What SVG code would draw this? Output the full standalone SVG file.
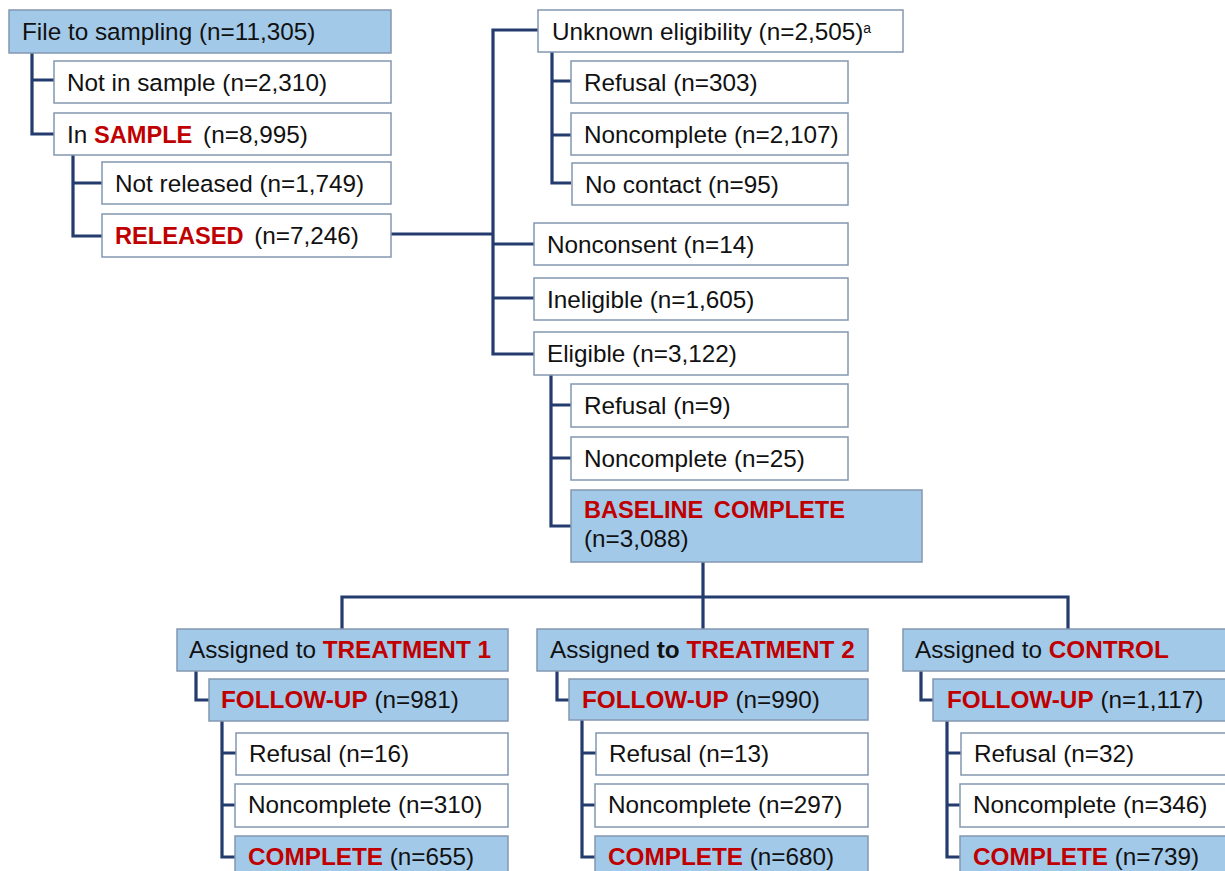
<svg xmlns="http://www.w3.org/2000/svg" width="1225" height="871" viewBox="0 0 1225 871">
<style>
  .w { fill: #FFFFFF; stroke: #8497B0; stroke-width: 1.5; }
  .b { fill: #A3C9E9; stroke: #8497B0; stroke-width: 1.5; }
  text { font-family: "Liberation Sans", Arial, sans-serif; font-size: 24.3px; fill: #111111; white-space: pre; }
  .r { fill: #C00000; font-weight: bold; }
  .s { font-size: 23.6px; }
  .k { font-weight: bold; }
  .sup { font-size: 14px; }
  .c { fill: none; stroke: #243B6E; stroke-width: 3.2; stroke-linejoin: miter; }
</style>
<rect width="1225" height="871" fill="#FFFFFF"/>
<g id="connectors" class="c">
  <path class="c" d="M32,53 V134 H54 M32,80 H54"/>
  <path class="c" d="M73,155 V236 H102 M73,183 H102"/>
  <path class="c" d="M391,234 H493"/>
  <path class="c" d="M538,30 H493 V354 H534 M493,244 H534 M493,298 H534"/>
  <path class="c" d="M552,52 V183 H571 M552,81 H571 M552,135 H571"/>
  <path class="c" d="M551,375 V526 H571 M551,405 H571 M551,458 H571"/>
  <path class="c" d="M703,562 V629 M342,629 V597 H1068 V629"/>
  <path class="c" d="M196,671 V700 H209 M222,721 V857 H236 M222,753 H236 M222,805 H236"/>
  <path class="c" d="M557,671 V700 H569 M582,720 V857 H596 M582,753 H596 M582,805 H596"/>
  <path class="c" d="M921,671 V700 H933 M947,721 V857 H961 M947,753 H961 M947,805 H961"/>
</g>
<g id="file">
  <rect class="b" x="9" y="10" width="382" height="43"/>
  <text x="22" y="40">File to sampling (n=11,305)</text>
</g>
<g id="notinsample">
  <rect class="w" x="54" y="61" width="337" height="42"/>
  <text x="67" y="91">Not in sample (n=2,310)</text>
</g>
<g id="insample">
  <rect class="w" x="54" y="113" width="337" height="42"/>
  <text x="67" y="143">In <tspan class="r s">SAMPLE</tspan><tspan dx="4"> (n=8,995)</tspan></text>
</g>
<g id="notreleased">
  <rect class="w" x="102" y="162" width="289" height="42"/>
  <text x="115" y="192">Not released (n=1,749)</text>
</g>
<g id="released">
  <rect class="w" x="102" y="214" width="289" height="43"/>
  <text x="115" y="244"><tspan class="r s">RELEASED</tspan><tspan dx="4"> (n=7,246)</tspan></text>
</g>
<g id="unknown">
  <rect class="w" x="538" y="10" width="365" height="42"/>
  <text x="552" y="40">Unknown eligibility (n=2,505)<tspan class="sup" dy="-7">a</tspan></text>
</g>
<g id="refusal303">
  <rect class="w" x="571" y="61" width="277" height="42"/>
  <text x="584" y="91">Refusal (n=303)</text>
</g>
<g id="noncomplete2107">
  <rect class="w" x="571" y="113" width="277" height="42"/>
  <text x="584" y="143">Noncomplete (n=2,107)</text>
</g>
<g id="nocontact">
  <rect class="w" x="572" y="163" width="276" height="42"/>
  <text x="585" y="193">No contact (n=95)</text>
</g>
<g id="nonconsent">
  <rect class="w" x="534" y="223" width="314" height="42"/>
  <text x="547" y="253">Nonconsent (n=14)</text>
</g>
<g id="ineligible">
  <rect class="w" x="534" y="278" width="314" height="42"/>
  <text x="547" y="308">Ineligible (n=1,605)</text>
</g>
<g id="eligible">
  <rect class="w" x="534" y="332" width="314" height="43"/>
  <text x="547" y="362">Eligible (n=3,122)</text>
</g>
<g id="refusal9">
  <rect class="w" x="571" y="384" width="277" height="43"/>
  <text x="584" y="414">Refusal (n=9)</text>
</g>
<g id="noncomplete25">
  <rect class="w" x="571" y="437" width="277" height="43"/>
  <text x="584" y="467">Noncomplete (n=25)</text>
</g>
<g id="baseline">
  <rect class="b" x="571" y="490" width="351" height="72"/>
  <text x="584" y="518"><tspan class="r s">BASELINE</tspan><tspan class="r s" dx="4"> COMPLETE</tspan></text>
  <text x="584" y="547">(n=3,088)</text>
</g>
<g id="treatment1">
  <rect class="b" x="177" y="629" width="331" height="42"/>
  <text x="189" y="658">Assigned to <tspan class="r">TREATMENT 1</tspan></text>
</g>
<g id="followup1">
  <rect class="b" x="209" y="679" width="299" height="42"/>
  <text x="221" y="708"><tspan class="r">FOLLOW-UP</tspan> (n=981)</text>
</g>
<g id="refusal16">
  <rect class="w" x="236" y="733" width="272" height="42"/>
  <text x="249" y="762">Refusal (n=16)</text>
</g>
<g id="noncomplete310">
  <rect class="w" x="235" y="784" width="273" height="43"/>
  <text x="248" y="813">Noncomplete (n=310)</text>
</g>
<g id="complete655">
  <rect class="b" x="235" y="836" width="273" height="50"/>
  <text x="248" y="865"><tspan class="r">COMPLETE</tspan> (n=655)</text>
</g>
<g id="treatment2">
  <rect class="b" x="537" y="629" width="331" height="42"/>
  <text x="550" y="658">Assigned <tspan class="k">to</tspan> <tspan class="r">TREATMENT 2</tspan></text>
</g>
<g id="followup2">
  <rect class="b" x="569" y="679" width="299" height="41"/>
  <text x="582" y="708"><tspan class="r">FOLLOW-UP</tspan> (n=990)</text>
</g>
<g id="refusal13">
  <rect class="w" x="596" y="733" width="272" height="42"/>
  <text x="609" y="762">Refusal (n=13)</text>
</g>
<g id="noncomplete297">
  <rect class="w" x="595" y="784" width="273" height="43"/>
  <text x="608" y="813">Noncomplete (n=297)</text>
</g>
<g id="complete680">
  <rect class="b" x="595" y="836" width="273" height="50"/>
  <text x="608" y="865"><tspan class="r">COMPLETE</tspan> (n=680)</text>
</g>
<g id="control">
  <rect class="b" x="903" y="629" width="340" height="42"/>
  <text x="915" y="658">Assigned to <tspan class="r">CONTROL</tspan></text>
</g>
<g id="followup3">
  <rect class="b" x="933" y="679" width="310" height="42"/>
  <text x="947" y="708"><tspan class="r">FOLLOW-UP</tspan> (n=1,117)</text>
</g>
<g id="refusal32">
  <rect class="w" x="961" y="733" width="282" height="42"/>
  <text x="974" y="762">Refusal (n=32)</text>
</g>
<g id="noncomplete346">
  <rect class="w" x="960" y="784" width="283" height="43"/>
  <text x="973" y="813">Noncomplete (n=346)</text>
</g>
<g id="complete739">
  <rect class="b" x="960" y="836" width="283" height="50"/>
  <text x="973" y="865"><tspan class="r">COMPLETE</tspan> (n=739)</text>
</g>
</svg>
